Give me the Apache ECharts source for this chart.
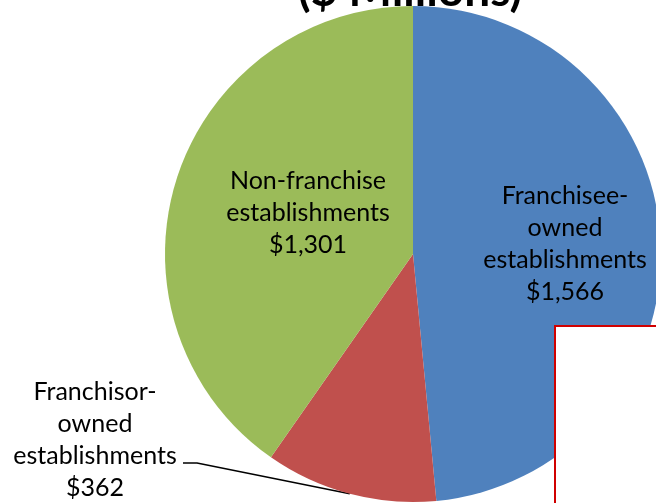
<!DOCTYPE html>
<html>
<head>
<meta charset="utf-8">
<script src="https://cdn.jsdelivr.net/npm/echarts@6/dist/echarts.min.js"></script>
<style>html,body{margin:0;padding:0;background:#fff}#c{width:656px;height:503px}</style>
</head>
<body>
<div id="c"></div>
<script>
const categories = ['Franchisee-\nowned\nestablishments', 'Franchisor-\nowned\nestablishments', 'Non-franchise\nestablishments'];
const values = [1566, 362, 1301];
const colors = ['#4F81BD', '#C0504D', '#9BBB59'];
const titleText = '($ Millions)';

const chart = echarts.init(document.getElementById('c'), null, {renderer: 'canvas'});
const fmt = v => '$' + v.toLocaleString('en-US');
const labelPos = [[565, 244], [95, 440], [308, 213]];

chart.setOption({
  animation: false,
  title: {
    text: titleText, left: 293, top: -37,
    textStyle: {fontFamily: 'Lato', fontWeight: 'bold', fontSize: 46, color: '#000', lineHeight: 46}
  },
  series: [{
    type: 'pie',
    center: [413, 254],
    radius: 248,
    startAngle: 90,
    clockwise: true,
    avoidLabelOverlap: false,
    itemStyle: {borderWidth: 0},
    label: {
      position: 'inside',
      formatter: p => p.name + '\n' + fmt(p.value),
      fontFamily: 'Lato', fontSize: 25, lineHeight: 32, color: '#000', align: 'center'
    },
    labelLine: {show: false},
    data: categories.map((c, i) => {
      const d = {name: c, value: values[i], itemStyle: {color: colors[i]}};
      if (i === 1) {
        d.label = {position: 'outside'};
        d.labelLine = {show: true, length: 10, length2: 10, lineStyle: {color: '#000', width: 1.5}};
      }
      return d;
    }),
    labelLayout: function (p) {
      const pos = labelPos[p.dataIndex];
      const out = {x: pos[0], y: pos[1], align: 'center', verticalAlign: 'middle'};
      if (p.dataIndex === 1 && p.labelLinePoints) {
        const edge = p.labelLinePoints[0];
        out.labelLinePoints = [edge, [197, 463], [183, 463]];
      }
      return out;
    }
  }],
  graphic: [{
    type: 'rect', z: 100, left: 554, top: 325,
    shape: {width: 120, height: 200},
    style: {fill: '#fff', stroke: '#D00000', lineWidth: 2}
  }]
});
</script>
</body>
</html>
